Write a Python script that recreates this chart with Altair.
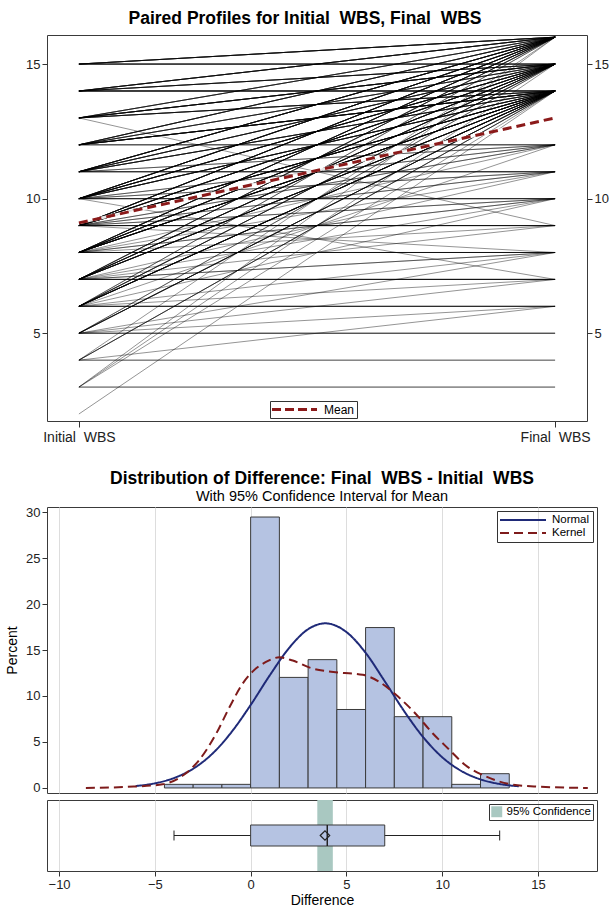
import altair as alt
import pandas as pd

FONT = "Liberation Sans"

# ---------------- Paired profiles (initial -> final, number of subjects) -------------
pair_initial = [15, 14, 13, 12, 11, 10, 9, 8, 7, 6, 4, 3,
                15, 14, 13, 12, 11, 10, 9, 8, 7, 6, 5, 3,
                14, 13, 12, 11, 10, 9, 8, 7, 6, 5, 4, 3, 2,
                12, 11, 10, 9, 8, 6,
                11, 10, 9, 8, 7,
                10, 9, 8, 7, 6,
                9, 8, 13, 7,
                8, 7, 6, 5, 9,
                7, 6, 10, 5,
                6, 5, 4,
                5, 4, 3]
pair_final = [16, 16, 16, 16, 16, 16, 16, 16, 16, 16, 16, 16,
              15, 15, 15, 15, 15, 15, 15, 15, 15, 15, 15, 15,
              14, 14, 14, 14, 14, 14, 14, 14, 14, 14, 14, 14, 14,
              12, 12, 12, 12, 12, 12,
              11, 11, 11, 11, 11,
              10, 10, 10, 10, 10,
              9, 9, 9, 9,
              8, 8, 8, 8, 8,
              7, 7, 7, 7,
              6, 6, 6,
              5, 4, 3]
pair_count = [6, 6, 4, 5, 7, 7, 7, 6, 4, 2, 1, 1,
              5, 5, 7, 4, 5, 7, 7, 7, 6, 4, 2, 1,
              6, 5, 8, 5, 6, 8, 9, 7, 8, 5, 3, 1, 1,
              3, 2, 2, 2, 1, 1,
              4, 2, 2, 1, 1,
              4, 2, 2, 1, 1,
              5, 1, 1, 1,
              5, 2, 1, 1, 1,
              5, 1, 1, 1,
              4, 1, 1,
              3, 2, 2]
mean_profile = [9.1, 13.0]
time_labels = ["Initial\u00a0 WBS", "Final\u00a0 WBS"]

# ---------------- Histogram of differences -------------------------------------------
bin_start = [-4.5, -3.0, -1.5, 0.0, 1.5, 3.0, 4.5, 6.0, 7.5, 9.0, 10.5, 12.0]
bin_end = [-3.0, -1.5, 0.0, 1.5, 3.0, 4.5, 6.0, 7.5, 9.0, 10.5, 12.0, 13.5]
bin_pct = [0.39, 0.39, 0.39, 29.46, 12.02, 13.95, 8.53, 17.44, 7.75, 7.75, 0.39, 1.55]

normal_x = [-6, -5, -4, -3, -2, -1, 0, 1, 2, 3, 3.9, 5, 6, 7, 8, 9, 10, 11, 12, 13, 14]
normal_y = [0.21, 0.5, 1.08, 2.09, 3.72, 6.07, 9.02, 12.25, 15.2, 17.26, 17.9, 16.95,
            14.7, 11.6, 8.39, 5.54, 3.34, 1.84, 0.93, 0.43, 0.18]

kernel_x = [-8.6, -6.1, -4.6, -3.5, -2.7, -1.8, -1.1, -0.4, 0.1, 0.8, 1.5, 2.2, 3.2, 4.1,
            5.85, 6.7, 7.6, 8.6, 9.5, 10.4, 11.2, 12.3, 13.5, 14.9, 17.6]
kernel_y = [0.0, 0.15, 0.4, 1.4, 3.0, 5.9, 8.8, 11.4, 12.65, 13.7, 14.2, 13.85, 13.0, 12.65,
            12.3, 11.55, 10.1, 8.1, 5.95, 4.1, 2.5, 1.23, 0.43, 0.15, 0.0]

# ---------------- Box plot / confidence interval ---------------------------------------
box_stats = {"lo": -4, "q1": 0, "median": 4, "q3": 7, "hi": 13, "mean": 3.88}
ci_mean = [3.48, 4.29]

# ======================================================================================
rows = []
pid = 0
for a, b, c in zip(pair_initial, pair_final, pair_count):
    for _ in range(c):
        rows.append({"id": pid, "time": time_labels[0], "wbs": a})
        rows.append({"id": pid, "time": time_labels[1], "wbs": b})
        pid += 1
profiles = pd.DataFrame(rows)
mean_df = pd.DataFrame({"time": time_labels, "wbs": mean_profile, "series": ["Mean", "Mean"]})

LONG_STROKE = "M-1.3,0H7.7"   # wide line symbol for legends

ysc = alt.Scale(domain=[1.74, 16.08], nice=False, zero=False)
xsc_top = alt.Scale(type="point", domain=time_labels, padding=0.067)

x_top = alt.X("time:N", sort=time_labels, scale=xsc_top,
              axis=alt.Axis(title=None, labelAngle=0, labelFontSize=14, tickSize=6,
                            domain=False, labelPadding=3))

lines = alt.Chart(profiles).mark_line(color="black", strokeWidth=1, opacity=0.42).encode(
    x=x_top,
    y=alt.Y("wbs:Q", scale=ysc, axis=alt.Axis(values=[5, 10, 15], title=None, grid=False,
                                              domain=False, tickSize=5, labelFontSize=13)),
    detail="id:N",
)
mean_under = alt.Chart(mean_df).mark_line(color="white", strokeWidth=3, opacity=0.9).encode(
    x=x_top, y=alt.Y("wbs:Q", scale=ysc, axis=None))
mean_line = alt.Chart(mean_df).mark_line(strokeWidth=3, strokeDash=[9, 5]).encode(
    x=x_top,
    y=alt.Y("wbs:Q", scale=ysc, axis=None),
    color=alt.Color("series:N", scale=alt.Scale(domain=["Mean"], range=["#8B1A1A"]),
                    legend=alt.Legend(title=None, orient="none", legendX=223, legendY=366,
                                      direction="horizontal", symbolType=LONG_STROKE,
                                      symbolStrokeWidth=3, symbolDash=[9, 4], symbolSize=100,
                                      labelOffset=39, strokeColor="#333", padding=2,
                                      labelFontSize=12, labelFont=FONT, labelColor="#000")),
)
right_axis = alt.Chart(mean_df).mark_point(opacity=0).encode(
    x=x_top,
    y=alt.Y("wbs:Q", scale=ysc, axis=alt.Axis(orient="right", values=[5, 10, 15], title=None,
                                              grid=False, domain=False, tickSize=5,
                                              labelFontSize=13)),
)
top = alt.layer(lines, mean_under, mean_line, right_axis).resolve_scale(y="independent").properties(
    width=540, height=386,
    title=alt.Title("Paired Profiles for Initial\u00a0 WBS, Final\u00a0 WBS", dx=-12, offset=8),
)

# ---------------- histogram panel ----------------
hist_df = pd.DataFrame({"start": bin_start, "end": bin_end, "pct": bin_pct})
curves = pd.concat([
    pd.DataFrame({"x": normal_x, "pct": normal_y, "curve": "Normal"}),
    pd.DataFrame({"x": kernel_x, "pct": kernel_y, "curve": "Kernel"}),
])
xsc = alt.Scale(domain=[-10.63, 18.08], nice=False, zero=False)
ysc_h = alt.Scale(domain=[-0.55, 30.55], nice=False, zero=False)
grid_axis = alt.Axis(grid=True, labels=False, ticks=False, domain=False, title=None,
                     values=[-10, -5, 0, 5, 10, 15], gridColor="#dddddd")
pct_axis = alt.Axis(values=[0, 5, 10, 15, 20, 25, 30], title="Percent", grid=False,
                    domain=False, tickSize=5, labelFontSize=13, titleFontSize=14,
                    titleFontWeight="normal", titlePadding=6)

bars = alt.Chart(hist_df).mark_rect(fill="#B5C3E2", stroke="#3a3a3a", strokeWidth=1).encode(
    x=alt.X("start:Q", scale=xsc, axis=grid_axis),
    x2="end:Q",
    y=alt.Y("pct:Q", scale=ysc_h, axis=pct_axis),
    y2=alt.datum(0),
)
curve_lines = alt.Chart(curves).mark_line(strokeWidth=2, interpolate="monotone").encode(
    x=alt.X("x:Q", scale=xsc, axis=grid_axis),
    y=alt.Y("pct:Q", scale=ysc_h, axis=pct_axis),
    color=alt.Color("curve:N", scale=alt.Scale(domain=["Normal", "Kernel"], range=["#1F2A78", "#7E1B1B"]),
                    legend=alt.Legend(title=None, orient="top-right", offset=4,
                                      symbolType="M-1.2,0H8", symbolStrokeWidth=2,
                                      symbolSize=100, labelOffset=40, strokeColor="#333",
                                      padding=3, labelFontSize=11.5, labelFont=FONT,
                                      rowPadding=1, labelColor="#000")),
    strokeDash=alt.StrokeDash("curve:N", scale=alt.Scale(domain=["Normal", "Kernel"], range=[[1, 0], [9, 5]]),
                              legend=alt.Legend(title=None, orient="top-right")),
)
hist = alt.layer(bars, curve_lines).properties(
    width=550, height=286,
    title=alt.Title("Distribution of Difference: Final\u00a0 WBS - Initial\u00a0 WBS",
                    subtitle="With 95% Confidence Interval for Mean", anchor="middle",
                    frame="group", offset=3, subtitlePadding=2),
)

# ---------------- box panel ----------------
PH = 71
ci_df = pd.DataFrame({"lo": [ci_mean[0]], "hi": [ci_mean[1]], "label": ["95% Confidence"]})
bs = pd.DataFrame([box_stats])
ysc_b = alt.Scale(domain=[0, 1], nice=False, zero=False)
x_axis_b = alt.Axis(values=[-10, -5, 0, 5, 10, 15], grid=True, gridColor="#dddddd",
                    domain=False, tickSize=5, labelFontSize=13, title="Difference",
                    titleFontSize=14, titleFontWeight="normal", titlePadding=2)


def bx(field):
    return alt.X(f"{field}:Q", scale=xsc, axis=x_axis_b)


def by(v):
    return alt.Y(datum=v, scale=ysc_b, axis=None)


def by2(v):
    return alt.Y2(datum=v)


ci = alt.Chart(ci_df).mark_rect().encode(
    x=bx("lo"), x2="hi:Q",
    y=alt.value(0), y2=alt.value(PH),
    fill=alt.Fill("label:N", scale=alt.Scale(domain=["95% Confidence"], range=["#A9C8C1"]),
                  legend=alt.Legend(title=None, orient="top-right", offset=4, symbolType="square",
                                    symbolSize=120, symbolStrokeWidth=0, strokeColor="#333",
                                    padding=2, labelFontSize=11.5, labelFont=FONT, labelColor="#000")),
)
whisk = alt.Chart(bs).mark_rule(color="#222", strokeWidth=1).encode(
    x=bx("lo"), x2="hi:Q", y=by(0.5))
caps_lo = alt.Chart(bs).mark_rule(color="#222", strokeWidth=1).encode(
    x=bx("lo"), y=by(0.43), y2=by2(0.57))
caps_hi = alt.Chart(bs).mark_rule(color="#222", strokeWidth=1).encode(
    x=bx("hi"), y=by(0.43), y2=by2(0.57))
box = alt.Chart(bs).mark_rect(fill="#B5C3E2", stroke="#3a3a3a", strokeWidth=1).encode(
    x=bx("q1"), x2="q3:Q", y=by(0.352), y2=by2(0.648))
med = alt.Chart(bs).mark_rule(color="#222", strokeWidth=1.5).encode(
    x=bx("median"), y=by(0.352), y2=by2(0.648))
meanpt = alt.Chart(bs).mark_point(shape="diamond", filled=False, stroke="#222",
                                  strokeWidth=1.2, size=90, opacity=1).encode(
    x=bx("mean"), y=by(0.5))

boxpanel = alt.layer(ci, whisk, caps_lo, caps_hi, box, med, meanpt).properties(width=550, height=PH)

bottom = alt.vconcat(hist, boxpanel, spacing=3).resolve_scale(
    color="independent", strokeDash="independent", fill="independent"
).resolve_legend(color="independent", strokeDash="independent", fill="independent")

chart = alt.vconcat(top, bottom, spacing=24).resolve_scale(
    color="independent", strokeDash="independent", fill="independent"
).resolve_legend(color="independent", strokeDash="independent", fill="independent").properties(
    padding={"left": 5, "top": 9, "right": 0, "bottom": 0}
).configure_view(stroke="#3a3a3a", strokeWidth=1).configure_axis(
    labelFont=FONT, titleFont=FONT, labelColor="#222", tickColor="#333", titleColor="#000"
).configure_title(
    font=FONT, fontSize=17.5, fontWeight="bold", color="#000",
    subtitleFont=FONT, subtitleFontSize=14.5, subtitleColor="#000"
).configure_legend(labelFont=FONT)

chart.save("out.html", embed_options={"renderer": "svg", "actions": False})
